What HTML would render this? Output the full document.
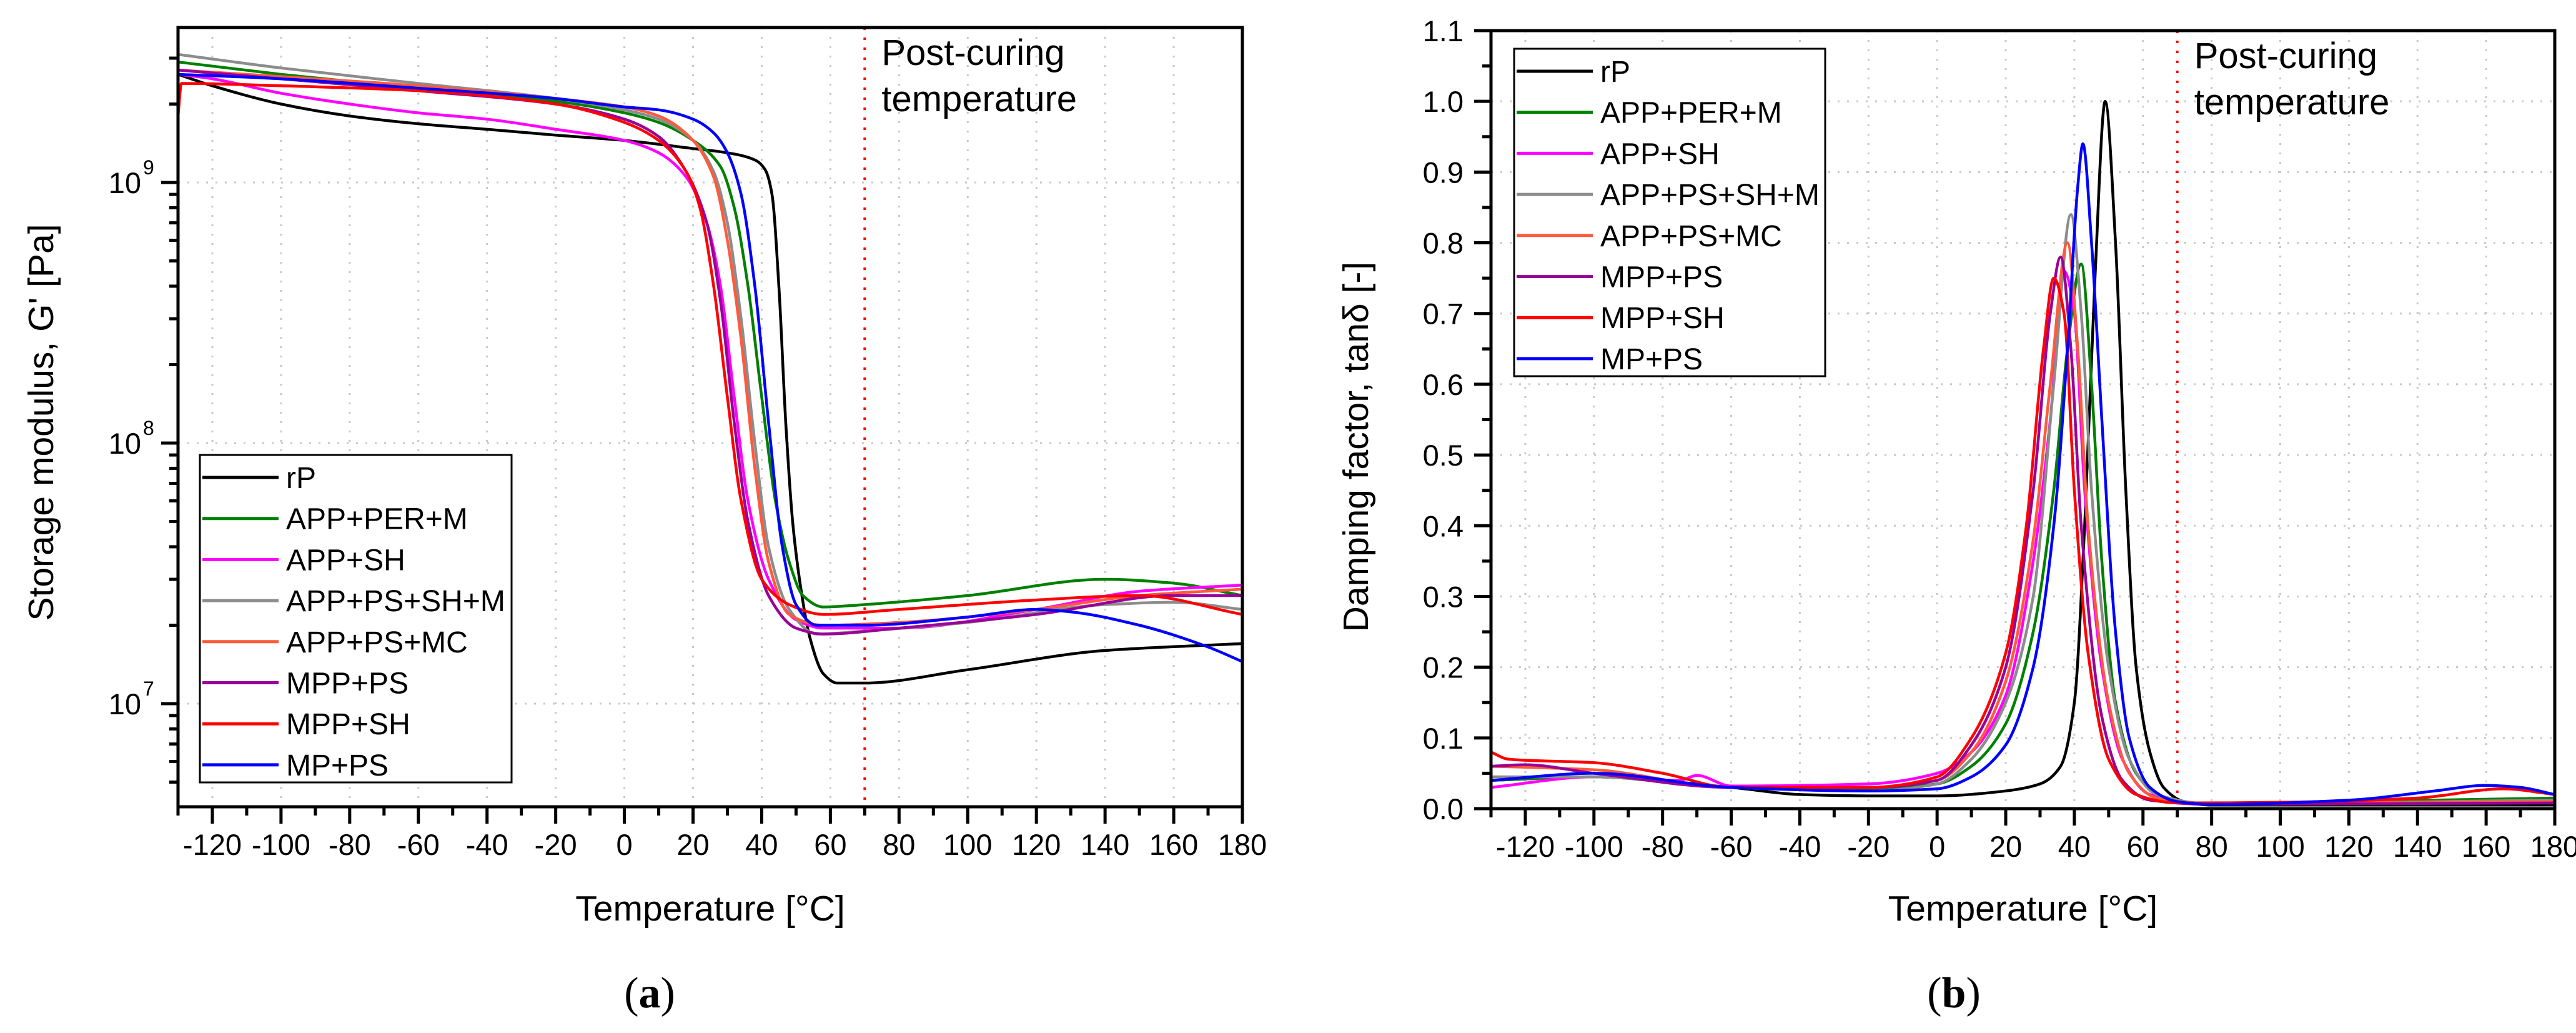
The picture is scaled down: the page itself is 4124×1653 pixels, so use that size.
<!DOCTYPE html>
<html><head><meta charset="utf-8">
<style>
html,body{margin:0;padding:0;background:#fff;}
svg{display:block;}
text{font-family:"Liberation Sans",Arial,sans-serif;fill:#000;}
</style></head>
<body>
<svg id="fig" width="4124" height="1653" viewBox="0 0 4124 1653" xmlns="http://www.w3.org/2000/svg">
<rect width="4124" height="1653" fill="#fff"/>
<g id="pa"></g>
<g id="pb"></g>
</svg>
<script>
// ---------- data ----------
const seriesNames = ["rP","APP+PER+M","APP+SH","APP+PS+SH+M","APP+PS+MC","MPP+PS","MPP+SH","MP+PS"];
const seriesColors = ["#000000","#008000","#ff00ff","#8c8c8c","#ff5a3c","#990099","#ff0000","#0000ff"];
const xTickLabels = [-120,-100,-80,-60,-40,-20,0,20,40,60,80,100,120,140,160,180];
const yTickLabelsB = ["0.0","0.1","0.2","0.3","0.4","0.5","0.6","0.7","0.8","0.9","1.0","1.1"];
const yDecadesA = [7,8,9];
const postCuringTemp = 70;

// Storage modulus G' [Pa]
const gT_rP   = [-130,-120,-100,-80,-60,-40,-20,0,20,30,38,41,43,45,47,49,51,54,58,62,70,100,140,180];
const gV_rP   = [2.6e9,2.35e9,2.0e9,1.8e9,1.68e9,1.6e9,1.52e9,1.45e9,1.35e9,1.3e9,1.22e9,1.12e9,9e8,4e8,1.2e8,5e7,3e7,1.8e7,1.3e7,1.2e7,1.2e7,1.35e7,1.6e7,1.7e7];
const gT_apm  = [-130,-100,-60,-20,0,10,20,28,32,36,40,44,48,52,58,70,100,140,160,180];
const gV_apm  = [2.9e9,2.6e9,2.3e9,2.05e9,1.85e9,1.7e9,1.45e9,1.15e9,8e8,4e8,1.5e8,6e7,3.5e7,2.6e7,2.35e7,2.4e7,2.6e7,3.0e7,2.9e7,2.6e7];
const gT_ash  = [-130,-120,-100,-80,-60,-40,-20,0,10,18,24,28,32,36,42,50,58,80,120,150,180];
const gV_ash  = [2.6e9,2.5e9,2.2e9,2.0e9,1.85e9,1.75e9,1.6e9,1.45e9,1.3e9,1.05e9,7e8,4e8,1.5e8,6e7,3e7,2.1e7,1.95e7,1.95e7,2.3e7,2.7e7,2.85e7];
const gT_apsm = [-130,-100,-60,-20,0,10,20,26,30,34,38,42,48,56,70,100,140,160,180];
const gV_apsm = [3.1e9,2.75e9,2.4e9,2.1e9,1.9e9,1.75e9,1.45e9,1.1e9,7e8,3e8,1e8,4e7,2.3e7,1.85e7,1.9e7,2.05e7,2.4e7,2.45e7,2.3e7];
const gT_apmc = [-130,-100,-60,-20,0,10,20,26,30,34,38,42,48,58,80,120,150,180];
const gV_apmc = [2.7e9,2.55e9,2.35e9,2.1e9,1.95e9,1.8e9,1.45e9,1.05e9,6e8,2.5e8,8e7,3.5e7,2.2e7,2.0e7,2.05e7,2.3e7,2.6e7,2.75e7];
const gT_mps  = [-130,-100,-60,-20,0,10,18,24,28,32,36,42,50,58,80,120,160,180];
const gV_mps  = [2.7e9,2.5e9,2.25e9,2.0e9,1.75e9,1.5e9,1.1e9,7e8,3.5e8,1.2e8,5e7,2.6e7,1.95e7,1.85e7,1.95e7,2.2e7,2.6e7,2.6e7];
const gT_msh  = [-130,-129,-100,-60,-20,0,10,18,22,26,30,34,40,48,58,80,120,150,180];
const gV_msh  = [1.8e9,2.4e9,2.35e9,2.25e9,2.0e9,1.7e9,1.45e9,1.1e9,8e8,4e8,1.5e8,6e7,3e7,2.4e7,2.2e7,2.3e7,2.5e7,2.6e7,2.2e7];
const gT_mp   = [-130,-100,-60,-20,0,10,20,26,30,34,38,42,46,50,56,70,100,120,130,150,170,180];
const gV_mp   = [2.6e9,2.5e9,2.3e9,2.1e9,1.95e9,1.9e9,1.75e9,1.55e9,1.3e9,9e8,4e8,1.2e8,4e7,2.4e7,2.0e7,2.0e7,2.15e7,2.3e7,2.25e7,2.0e7,1.65e7,1.45e7];

// Damping factor tan(delta)
const dT_rP   = [-130,-100,-60,-40,-20,0,20,30,36,40,43,46,49,52,55,58,62,66,72,80,180];
const dV_rP   = [0.04,0.045,0.03,0.02,0.018,0.018,0.025,0.035,0.06,0.15,0.4,0.75,1.0,0.8,0.45,0.2,0.08,0.03,0.01,0.005,0.005];
const dT_apm  = [-130,-100,-60,-20,0,10,20,28,34,38,42,45,48,52,58,66,80,120,180];
const dV_apm  = [0.04,0.045,0.03,0.028,0.035,0.06,0.12,0.25,0.45,0.65,0.77,0.6,0.35,0.15,0.05,0.015,0.007,0.01,0.015];
const dT_ash  = [-130,-100,-75,-70,-60,-20,0,10,20,28,33,37,40,43,48,54,62,80,180];
const dV_ash  = [0.03,0.045,0.04,0.047,0.032,0.035,0.05,0.08,0.16,0.35,0.55,0.76,0.7,0.45,0.2,0.07,0.02,0.007,0.01];
const dT_apsm = [-130,-100,-60,-20,0,10,20,28,34,39,42,45,50,56,64,80,180];
const dV_apsm = [0.045,0.045,0.03,0.025,0.035,0.07,0.15,0.3,0.6,0.84,0.7,0.45,0.2,0.07,0.02,0.007,0.012];
const dT_apmc = [-130,-100,-60,-20,0,10,20,28,33,38,41,44,50,56,64,80,180];
const dV_apmc = [0.06,0.055,0.03,0.03,0.04,0.08,0.18,0.38,0.6,0.8,0.65,0.4,0.15,0.05,0.015,0.007,0.01];
const dT_mps  = [-130,-120,-100,-60,-20,0,10,20,28,33,36,39,42,48,54,62,80,180];
const dV_mps  = [0.06,0.062,0.05,0.03,0.03,0.04,0.09,0.2,0.45,0.7,0.78,0.65,0.4,0.13,0.04,0.012,0.006,0.008];
const dT_msh  = [-130,-125,-100,-80,-60,-20,0,10,20,26,31,34,37,40,44,50,58,70,100,140,165,180];
const dV_msh  = [0.08,0.07,0.065,0.05,0.03,0.03,0.045,0.1,0.22,0.4,0.65,0.75,0.7,0.45,0.22,0.07,0.02,0.008,0.009,0.015,0.028,0.02];
const dT_mp   = [-130,-100,-60,-20,0,10,20,28,34,38,41,42.5,45,48,52,56,62,70,80,120,145,160,170,180];
const dV_mp   = [0.04,0.05,0.03,0.025,0.028,0.045,0.09,0.2,0.4,0.65,0.88,0.94,0.8,0.55,0.25,0.1,0.03,0.01,0.006,0.012,0.025,0.033,0.03,0.02];

const gSeriesT = [gT_rP,gT_apm,gT_ash,gT_apsm,gT_apmc,gT_mps,gT_msh,gT_mp];
const gSeriesV = [gV_rP,gV_apm,gV_ash,gV_apsm,gV_apmc,gV_mps,gV_msh,gV_mp];
const dSeriesT = [dT_rP,dT_apm,dT_ash,dT_apsm,dT_apmc,dT_mps,dT_msh,dT_mp];
const dSeriesV = [dV_rP,dV_apm,dV_ash,dV_apsm,dV_apmc,dV_mps,dV_msh,dV_mp];

// ---------- drawing ----------
const NS = "http://www.w3.org/2000/svg";
function mk(tag, attrs, parent, txt){
  const e = document.createElementNS(NS, tag);
  for (const k in attrs) e.setAttribute(k, attrs[k]);
  if (txt !== undefined) e.textContent = txt;
  parent.appendChild(e);
  return e;
}
const XMIN=-130, XMAX=180;

// monotone cubic (Fritsch-Carlson) path through pixel points
function smoothPath(px, py){
  const n=px.length;
  if(n<3){ let d=""; for(let i=0;i<n;i++) d+=(i?"L":"M")+px[i].toFixed(1)+","+py[i].toFixed(1); return d; }
  const dx=[],s=[];
  for(let i=0;i<n-1;i++){ dx.push(px[i+1]-px[i]); s.push((py[i+1]-py[i])/(dx[i]||1e-6)); }
  const m=new Array(n);
  m[0]=s[0]; m[n-1]=s[n-2];
  for(let i=1;i<n-1;i++){
    if(s[i-1]*s[i]<=0) m[i]=0;
    else { const w1=2*dx[i]+dx[i-1], w2=dx[i]+2*dx[i-1]; m[i]=(w1+w2)/(w1/s[i-1]+w2/s[i]); }
  }
  let d="M"+px[0].toFixed(1)+","+py[0].toFixed(1);
  for(let i=0;i<n-1;i++){
    const h=dx[i]/3;
    d+="C"+(px[i]+h).toFixed(1)+","+(py[i]+m[i]*h).toFixed(1)+" "+(px[i+1]-h).toFixed(1)+","+(py[i+1]-m[i+1]*h).toFixed(1)+" "+px[i+1].toFixed(1)+","+py[i+1].toFixed(1);
  }
  return d;
}

function drawPanel(g, P){
  const xs = v => P.L + (v - XMIN) / (XMAX - XMIN) * (P.R - P.L);
  const grid = mk("g",{},g);
  
  
  xTickLabels.forEach(t=>{
    mk("line",{x1:xs(t),x2:xs(t),y1:P.T,y2:P.B,stroke:"#c8c8c8","stroke-width":3,"stroke-dasharray":"3 12"},grid);
  });
  P.yMajor.forEach(v=>{
    const y=P.ys(v);
    mk("line",{x1:P.L,x2:P.R,y1:y,y2:y,stroke:"#c8c8c8","stroke-width":3,"stroke-dasharray":"3 12"},grid);
  });
  const pc = mk("line",{x1:xs(postCuringTemp),x2:xs(postCuringTemp),y1:P.T,y2:P.B,stroke:"#ff0000","stroke-width":4,"stroke-dasharray":"4 12"},g);
  
  
  const pt = mk("text",{x:xs(postCuringTemp)+27,y:P.T+60,"font-size":58},g,"Post-curing");
  
  
  mk("text",{x:xs(postCuringTemp)+27,y:P.T+134,"font-size":58},g,"temperature");
  const ser = mk("g",{fill:"none","stroke-width":4.5,"stroke-linejoin":"round"},g);
  P.T_.forEach((ts,i)=>{
    const vs=P.V_[i];
    const px=ts.map(xs), py=vs.map(P.ys);
    const p = mk("path",{d:smoothPath(px,py),stroke:seriesColors[i]},ser);
    
    
  });
  const fr = mk("rect",{x:P.L,y:P.T,width:P.R-P.L,height:P.B-P.T,fill:"none",stroke:"#000","stroke-width":5},g);
  
  
  const xa = mk("g",{},g);
  
  
  for(let t=-130;t<=180;t+=10){
    const major = (t%20===0);
    mk("line",{x1:xs(t),x2:xs(t),y1:P.B,y2:P.B+(major?27:14),stroke:"#000","stroke-width":5},xa);
  }
  xTickLabels.forEach(t=>{
    const tl = mk("text",{x:xs(t),y:P.B+77,"font-size":47,"text-anchor":"middle"},xa,String(t));
    
    
  });
  const xt = mk("text",{x:(P.L+P.R)/2,y:1473,"font-size":57,"text-anchor":"middle"},g,"Temperature [°C]");
  
  
  const ya = mk("g",{},g);
  
  
  P.yMinor.forEach(v=>{
    mk("line",{x1:P.L,x2:P.L-14,y1:P.ys(v),y2:P.ys(v),stroke:"#000","stroke-width":5},ya);
  });
  P.yMajor.forEach(v=>{
    mk("line",{x1:P.L,x2:P.L-27,y1:P.ys(v),y2:P.ys(v),stroke:"#000","stroke-width":5},ya);
  });
  P.yLabels(ya);
  const yt = mk("text",{x:0,y:0,"font-size":57,"text-anchor":"middle",transform:`translate(${P.ytX},${P.ytY}) rotate(-90)`},g,P.yTitle);
  
  
  const lg = mk("g",{},g);
  
  
  mk("rect",{x:P.lgX,y:P.lgY,width:P.lgW,height:P.lgH,fill:"#fff",stroke:"#000","stroke-width":3},lg);
  seriesNames.forEach((n,i)=>{
    const y = P.lgE + i*65.7;
    const en = mk("g",{},lg);
    
    
    mk("line",{x1:P.lgX+4,x2:P.lgX+126,y1:y,y2:y,stroke:seriesColors[i],"stroke-width":5},en);
    mk("text",{x:P.lgX+138,y:y+17,"font-size":48},en,n);
  });
  const cap = mk("text",{x:P.capX,y:1612,"font-size":70,"text-anchor":"middle",style:'font-family:"Liberation Serif",serif'},g);
  
  
  mk("tspan",{},cap,"(");
  mk("tspan",{"font-weight":"bold"},cap,P.capL);
  mk("tspan",{},cap,")");
}

const A = {L:285,R:1989,T:44,B:1291};
A.ys = v => 1126 - (Math.log10(v)-7)*417;
A.yMajor = yDecadesA.map(d=>Math.pow(10,d));
A.yMinor = [];
for(let d=6; d<=9; d++) for(let m=2;m<=9;m++){ const v=m*Math.pow(10,d); const y=A.ys(v); if(y>A.T && y<A.B) A.yMinor.push(v); }
A.yLabels = (ya)=>{
  yDecadesA.forEach(d=>{
    const y=A.ys(Math.pow(10,d));
    const t = mk("text",{x:226,y:y+17,"font-size":47,"text-anchor":"end"},ya,"10");
    
    
    mk("text",{x:229,y:y-13,"font-size":32},ya,String(d));
  });
};
A.T_=gSeriesT; A.V_=gSeriesV;
A.yTitle="Storage modulus, G' [Pa]"; A.ytX=85; A.ytY=676;
A.lgX=320; A.lgY=728; A.lgW=499; A.lgH=524; A.lgE=764;
A.capX=1040; A.capL="a";
drawPanel(document.getElementById("pa"),A);

const B = {L:2387,R:4090,T:49,B:1294};
B.ys = v => B.B - v/1.1*(B.B-B.T);
B.yMajor = yTickLabelsB.map(Number);
B.yMinor = []; for(let k=0;k<11;k++) B.yMinor.push(k*0.1+0.05);
B.yLabels = (ya)=>{
  yTickLabelsB.forEach(s=>{
    const t = mk("text",{x:2343,y:B.ys(Number(s))+17,"font-size":47,"text-anchor":"end"},ya,s);
    
    
  });
};
B.T_=dSeriesT; B.V_=dSeriesV;
B.yTitle="Damping factor, tanδ [-]"; B.ytX=2190; B.ytY=715;
B.lgX=2424; B.lgY=78; B.lgW=498; B.lgH=524; B.lgE=114;
B.capX=3128; B.capL="b";
drawPanel(document.getElementById("pb"),B);
</script>
</body></html>
